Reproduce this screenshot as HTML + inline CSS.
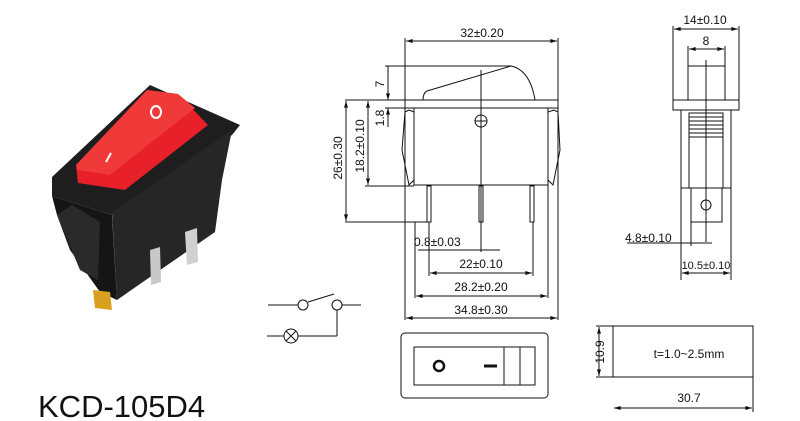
<!DOCTYPE html>
<html><head><meta charset="utf-8"><style>
html,body{margin:0;padding:0;background:#fff;width:800px;height:421px;overflow:hidden}
svg{display:block}
text{font-family:"Liberation Sans",sans-serif;fill:#111}
</style></head><body>
<svg width="800" height="421" viewBox="0 0 800 421" xmlns="http://www.w3.org/2000/svg">
<defs>
<marker id="a" viewBox="0 0 10 6" refX="10" refY="3" markerWidth="10" markerHeight="4" orient="auto-start-reverse"><path d="M0,0L10,3L0,6z" fill="#111"/></marker>
</defs>
<g>
<polygon points="52,177 150,85 240,125 232,135 112,215 52,196" fill="#1e1e1e"/>
<polygon points="112,212 232,130 222,180 215,232 117,300" fill="#262626"/>
<polygon points="52,196 112,215 117,300 100,292 70,250 57,215" fill="#151515"/>
<polygon points="57,215 72,205 100,222 98,280 80,270" fill="#2a2a2a"/>
<polygon points="150,250 160,247 161,282 151,285" fill="#c8c8c8"/>
<polygon points="185,232 197,228 198,262 187,265" fill="#d0d0d0"/>
<polygon points="93,290 110,292 112,310 95,308" fill="#d9a020"/>
<polygon points="147,90 178,94 208,125 125,190 78,183 76,165" fill="#e8202a"/>
<polygon points="147,90 178,94 195,108 110,175 78,170 76,165" fill="#f03a3a"/>
<ellipse cx="156" cy="112" rx="5" ry="6" fill="none" stroke="#fff" stroke-width="2"/>
<line x1="111" y1="153" x2="106" y2="162" stroke="#fff" stroke-width="2"/>
</g>
<g stroke="#111" stroke-width="1" fill="none">
<line x1="405" y1="38" x2="405" y2="320"/>
<line x1="558" y1="38" x2="558" y2="320"/>
<line x1="406" y1="41" x2="557" y2="41" marker-start="url(#a)" marker-end="url(#a)"/>
<rect x="405" y="100" width="153" height="8"/>
<path d="M423,100 Q423,93 427,91 L511,66 Q530,70 535,100"/>
<rect x="414" y="108" width="134" height="77"/>
<path d="M405,112 L409,110 L414,112 L414,180 L409,185 L402,150 Z"/>
<path d="M558,112 L554,110 L548,112 L548,180 L553,185 L560,150 Z"/>
<circle cx="481" cy="121" r="6"/>
<line x1="475" y1="121" x2="487" y2="121"/>
<line x1="481" y1="70" x2="481" y2="252"/>
<rect x="427" y="186" width="4" height="36"/>
<rect x="479" y="186" width="4" height="36"/>
<rect x="530" y="186" width="4" height="36"/>
<line x1="385" y1="66" x2="511" y2="66"/>
<line x1="345" y1="100" x2="405" y2="100"/>
<line x1="385" y1="108" x2="405" y2="108"/>
<line x1="365" y1="186" x2="414" y2="186"/>
<line x1="345" y1="222" x2="429" y2="222"/>
<line x1="346" y1="101" x2="346" y2="221" marker-start="url(#a)" marker-end="url(#a)"/>
<line x1="368" y1="101" x2="368" y2="185" marker-start="url(#a)" marker-end="url(#a)"/>
<line x1="388" y1="66" x2="388" y2="100" marker-end="url(#a)"/>
<line x1="388" y1="108" x2="388" y2="127" marker-start="url(#a)"/>
<line x1="415" y1="222" x2="415" y2="298"/>
<line x1="548" y1="185" x2="548" y2="298"/>
<line x1="429" y1="222" x2="429" y2="276"/>
<line x1="533" y1="222" x2="533" y2="276"/>
<line x1="418" y1="250" x2="500" y2="250"/>
<line x1="430" y1="273" x2="532" y2="273" marker-start="url(#a)" marker-end="url(#a)"/>
<line x1="416" y1="296" x2="547" y2="296" marker-start="url(#a)" marker-end="url(#a)"/>
<line x1="406" y1="318" x2="557" y2="318" marker-start="url(#a)" marker-end="url(#a)"/>
<line x1="673" y1="26" x2="673" y2="100"/>
<line x1="739" y1="26" x2="739" y2="100"/>
<line x1="674" y1="29" x2="738" y2="29" marker-start="url(#a)" marker-end="url(#a)"/>
<line x1="688" y1="46" x2="688" y2="66"/>
<line x1="725" y1="46" x2="725" y2="66"/>
<line x1="689" y1="49" x2="724" y2="49" marker-start="url(#a)" marker-end="url(#a)"/>
<rect x="688" y="66" width="37" height="34"/>
<rect x="673" y="100" width="66" height="10"/>
<rect x="681" y="110" width="50" height="78"/>
<rect x="689" y="113" width="34" height="75"/>
<path d="M689,117H723M689,121H723M689,125H723M689,129H723M689,133H723M689,137H723"/>
<rect x="691" y="188" width="31" height="34"/>
<circle cx="706" cy="205" r="5"/>
<line x1="706" y1="60" x2="706" y2="242"/>
<line x1="691" y1="222" x2="691" y2="246"/>
<line x1="681" y1="188" x2="681" y2="280"/>
<line x1="731" y1="188" x2="731" y2="280"/>
<line x1="627" y1="243" x2="712" y2="243"/>
<line x1="682" y1="273" x2="730" y2="273" marker-start="url(#a)" marker-end="url(#a)"/>
<line x1="268" y1="305" x2="298" y2="305"/>
<circle cx="303" cy="305" r="5"/>
<line x1="308" y1="302" x2="334" y2="294"/>
<circle cx="337" cy="305" r="5"/>
<line x1="342" y1="305" x2="361" y2="305"/>
<line x1="337" y1="310" x2="337" y2="336"/>
<line x1="337" y1="336" x2="298" y2="336"/>
<circle cx="291" cy="336" r="7"/>
<path d="M286,331L296,341M296,331L286,341"/>
<line x1="267" y1="336" x2="284" y2="336"/>
<rect x="401" y="333" width="147" height="65" rx="4"/>
<rect x="414" y="347" width="121" height="38"/>
<line x1="504" y1="347" x2="504" y2="385"/>
<line x1="520" y1="347" x2="520" y2="385"/>
<circle cx="439" cy="366" r="5" stroke-width="2.5"/>
<line x1="484" y1="366" x2="497" y2="366" stroke-width="3"/>
<rect x="613" y="326" width="140" height="51"/>
<line x1="596" y1="326" x2="613" y2="326"/>
<line x1="596" y1="377" x2="613" y2="377"/>
<line x1="599" y1="327" x2="599" y2="376" marker-start="url(#a)" marker-end="url(#a)"/>
<line x1="753" y1="377" x2="753" y2="412"/>
<line x1="614" y1="408" x2="752" y2="408" marker-start="url(#a)" marker-end="url(#a)"/>
</g>
<g font-size="12">
<text x="482" y="37" text-anchor="middle">32±0.20</text>
<text x="705" y="24" text-anchor="middle">14±0.10</text>
<text x="706" y="45" text-anchor="middle">8</text>
<text transform="translate(342,158) rotate(-90)" text-anchor="middle">26±0.30</text>
<text transform="translate(364,146) rotate(-90)" text-anchor="middle">18.2±0.10</text>
<text transform="translate(384,84) rotate(-90)" text-anchor="middle">7</text>
<text transform="translate(384,118) rotate(-90)" text-anchor="middle">1.8</text>
<text x="414" y="246">0.8±0.03</text>
<text x="481" y="268" text-anchor="middle">22±0.10</text>
<text x="481" y="291" text-anchor="middle">28.2±0.20</text>
<text x="481" y="314" text-anchor="middle">34.8±0.30</text>
<text x="625" y="242">4.8±0.10</text>
<text x="706" y="269" text-anchor="middle" font-size="11">10.5±0.10</text>
<text transform="translate(604,352) rotate(-90)" text-anchor="middle">10.9</text>
<text x="689" y="358" text-anchor="middle">t=1.0~2.5mm</text>
<text x="689" y="402" text-anchor="middle">30.7</text>
</g>
<text x="38" y="417" font-size="31">KCD-105D4</text>
</svg>
</body></html>
